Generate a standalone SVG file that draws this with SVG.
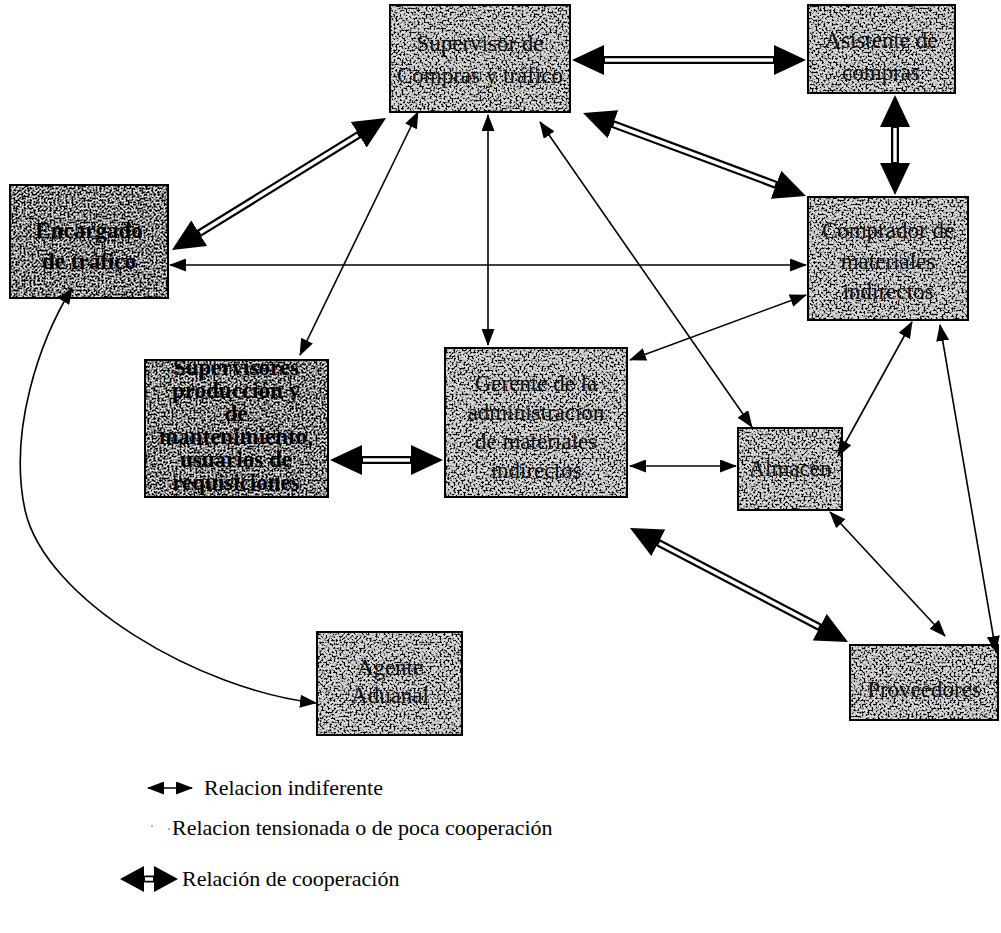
<svg xmlns="http://www.w3.org/2000/svg" width="1001" height="933" viewBox="0 0 1001 933">
  <style>
    .box { fill: #dcdcdc; }
    .frame { fill: none; stroke: #000; stroke-width: 2; }
    .lbl { font-family: "Liberation Serif", "DejaVu Serif", "Times New Roman", serif; font-size: 23px; fill: #111; text-anchor: middle; }
    .dark .lbl { font-weight: bold; fill: #000; }
    .ind { fill: none; stroke: #000; stroke-width: 1.6; marker-start: url(#headS); marker-end: url(#headS); }
    .coopB { fill: none; stroke: #000; stroke-width: 8; marker-start: url(#headL); marker-end: url(#headL); }
    .coopW { fill: none; stroke: #fff; stroke-width: 3.5; }
    .leg { font-family: "Liberation Serif", "DejaVu Serif", "Times New Roman", serif; font-size: 22px; fill: #000; }
  </style>
  <defs>
    <!-- speckled grey fill for the boxes -->
    <filter id="grain" x="0" y="0" width="1" height="1" color-interpolation-filters="sRGB">
      <feTurbulence type="fractalNoise" baseFrequency="0.5" numOctaves="2" seed="7" result="noise"/>
      <feColorMatrix in="noise" type="matrix" values="0 0 0 0 0  0 0 0 0 0  0 0 0 0 0  6 0 0 0 -2.85" result="spots"/>
      <feComposite in="spots" in2="SourceGraphic" operator="in" result="clip"/>
      <feMerge><feMergeNode in="SourceGraphic"/><feMergeNode in="clip"/></feMerge>
    </filter>
    <filter id="grainDark" x="0" y="0" width="1" height="1" color-interpolation-filters="sRGB">
      <feTurbulence type="fractalNoise" baseFrequency="0.5" numOctaves="2" seed="11" result="noise"/>
      <feColorMatrix in="noise" type="matrix" values="0 0 0 0 0  0 0 0 0 0  0 0 0 0 0  6 0 0 0 -2.6" result="spots"/>
      <feComposite in="spots" in2="SourceGraphic" operator="in" result="clip"/>
      <feMerge><feMergeNode in="SourceGraphic"/><feMergeNode in="clip"/></feMerge>
    </filter>
    <!-- small head: indifferent relation -->
    <marker id="headS" markerUnits="userSpaceOnUse" viewBox="0 0 17 13" markerWidth="17" markerHeight="13" refX="16" refY="6.5" orient="auto-start-reverse">
      <path d="M0,0 L17,6.5 L0,13 z" fill="#000"/>
    </marker>
    <!-- large head: cooperation relation -->
    <marker id="headL" markerUnits="userSpaceOnUse" viewBox="0 0 32 30" markerWidth="32" markerHeight="30" refX="6" refY="15" orient="auto-start-reverse">
      <path d="M0,0 L32,15 L0,30 z" fill="#000"/>
    </marker>
    <!-- medium head: cooperation sample in the key -->
    <marker id="headM" markerUnits="userSpaceOnUse" viewBox="0 0 24 26" markerWidth="24" markerHeight="26" refX="5" refY="13" orient="auto-start-reverse">
      <path d="M0,0 L24,13 L0,26 z" fill="#000"/>
    </marker>
  </defs>

  <rect width="1001" height="933" fill="#fff"/>

  <!-- nodes -->
  <g id="supervisor-compras">
    <rect class="box" x="390" y="5" width="180" height="107" filter="url(#grain)"/>
    <rect class="frame" x="390" y="5" width="180" height="107"/>
    <text class="lbl" x="480" y="51">Supervisor de</text>
    <text class="lbl" x="480" y="83">Compras y tráfico</text>
  </g>
  <g id="asistente-compras">
    <rect class="box" x="808" y="5" width="147" height="88" filter="url(#grain)"/>
    <rect class="frame" x="808" y="5" width="147" height="88"/>
    <text class="lbl" x="881" y="48">Asistente de</text>
    <text class="lbl" x="881" y="80">compras</text>
  </g>
  <g id="encargado-trafico" class="dark">
    <rect class="box" x="10" y="185" width="158" height="113" filter="url(#grainDark)"/>
    <rect class="frame" x="10" y="185" width="158" height="113"/>
    <text class="lbl" x="89" y="238" font-size="24">Encargado</text>
    <text class="lbl" x="89" y="269" font-size="24">de tráfico</text>
  </g>
  <g id="comprador-indirectos">
    <rect class="box" x="808" y="197" width="160" height="123" filter="url(#grain)"/>
    <rect class="frame" x="808" y="197" width="160" height="123"/>
    <text class="lbl" x="888" y="238">Comprador de</text>
    <text class="lbl" x="888" y="269">materiales</text>
    <text class="lbl" x="888" y="299">indirectos</text>
  </g>
  <g id="supervisores-produccion" class="dark">
    <rect class="box" x="145" y="360" width="183" height="137" filter="url(#grainDark)"/>
    <rect class="frame" x="145" y="360" width="183" height="137"/>
    <text class="lbl" x="236" y="375" font-size="21">Supervisores</text>
    <text class="lbl" x="236" y="398" font-size="21">producción y</text>
    <text class="lbl" x="236" y="421" font-size="21">de</text>
    <text class="lbl" x="236" y="444" font-size="21">mantenimiento,</text>
    <text class="lbl" x="236" y="467" font-size="21">usuarios de</text>
    <text class="lbl" x="236" y="490" font-size="21">requisiciones</text>
  </g>
  <g id="gerente-materiales">
    <rect class="box" x="445" y="348" width="182" height="149" filter="url(#grain)"/>
    <rect class="frame" x="445" y="348" width="182" height="149"/>
    <text class="lbl" x="536" y="391">Gerente de la</text>
    <text class="lbl" x="536" y="420">administración</text>
    <text class="lbl" x="536" y="449">de materiales</text>
    <text class="lbl" x="536" y="478">indirectos</text>
  </g>
  <g id="almacen">
    <rect class="box" x="738" y="428" width="104" height="82" filter="url(#grain)"/>
    <rect class="frame" x="738" y="428" width="104" height="82"/>
    <text class="lbl" x="790" y="476">Almacén</text>
  </g>
  <g id="agente-aduanal">
    <rect class="box" x="317" y="632" width="145" height="103" filter="url(#grain)"/>
    <rect class="frame" x="317" y="632" width="145" height="103"/>
    <text class="lbl" x="390" y="675">Agente</text>
    <text class="lbl" x="390" y="703">Aduanal</text>
  </g>
  <g id="proveedores">
    <rect class="box" x="850" y="645" width="148" height="75" filter="url(#grain)"/>
    <rect class="frame" x="850" y="645" width="148" height="75"/>
    <text class="lbl" x="924" y="697">Proveedores</text>
  </g>

  <!-- connectors -->
  <g id="connectors">
    <!-- indifferent relations -->
    <path class="ind" d="M170,265 L806,265"/>
    <path class="ind" d="M488,115 L488,345"/>
    <path class="ind" d="M418,112 L300,355"/>
    <path class="ind" d="M540,122 L752,427"/>
    <path class="ind" d="M806,295 L630,360"/>
    <path class="ind" d="M912,322 L838,456"/>
    <path class="ind" d="M940,325 L996,652"/>
    <path class="ind" d="M630,466 L736,466"/>
    <path class="ind" d="M830,512 L945,636"/>
    <path class="ind" d="M72,288 C40,340 8,430 25,510 C45,600 200,690 316,703"/>

    <!-- cooperation relations: black band with a white core -->
    <path class="coopB" d="M598,60 L780,60"/>
    <path class="coopW" d="M605,60 L773,60"/>
    <path class="coopB" d="M607.4,122.1 L781.6,186.9"/>
    <path class="coopW" d="M613.9,124.5 L775.1,184.5"/>
    <path class="coopB" d="M895,121 L895,169"/>
    <path class="coopW" d="M895,128 L895,162"/>
    <path class="coopB" d="M363.9,131.65 L194.1,236.35"/>
    <path class="coopW" d="M357.9,135.3 L200.1,232.7"/>
    <path class="coopB" d="M356,460 L417,460"/>
    <path class="coopW" d="M363,460 L410,460"/>
    <path class="coopB" d="M653,540 L825,630"/>
    <path class="coopW" d="M659.2,543.3 L818.8,626.7"/>
  </g>

  <!-- legend -->
  <g id="legend">
    <path class="ind" d="M148,788 L192,788"/>
    <text class="leg" x="204" y="795">Relacion indiferente</text>
    <circle cx="152" cy="826" r="1" fill="#999"/>
    <circle cx="169" cy="829" r="1" fill="#999"/>
    <text class="leg" x="172" y="835">Relacion tensionada o de poca cooperación</text>
    <path d="M139,879 L159,879" fill="none" stroke="#000" stroke-width="7" marker-start="url(#headM)" marker-end="url(#headM)"/>
    <path class="coopW" d="M145,879 L153,879" stroke-width="3"/>
    <text class="leg" x="182" y="886">Relación de cooperación</text>
  </g>
</svg>
